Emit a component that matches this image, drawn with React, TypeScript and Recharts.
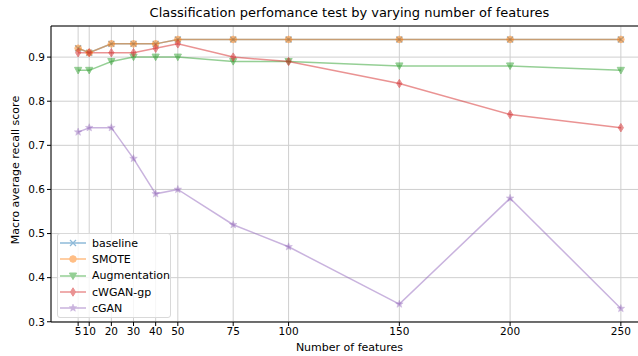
import React from "react";
import { CartesianGrid, Line, LineChart, ReferenceLine, XAxis, YAxis } from "recharts";

const features = [5, 10, 20, 30, 40, 50, 75, 100, 150, 200, 250];
const baseline = [0.92, 0.91, 0.93, 0.93, 0.93, 0.94, 0.94, 0.94, 0.94, 0.94, 0.94];
const smote = [0.92, 0.91, 0.93, 0.93, 0.93, 0.94, 0.94, 0.94, 0.94, 0.94, 0.94];
const augmentation = [0.87, 0.87, 0.89, 0.9, 0.9, 0.9, 0.89, 0.89, 0.88, 0.88, 0.87];
const cwgan = [0.91, 0.91, 0.91, 0.91, 0.92, 0.93, 0.9, 0.89, 0.84, 0.77, 0.74];
const cgan = [0.73, 0.74, 0.74, 0.67, 0.59, 0.6, 0.52, 0.47, 0.34, 0.58, 0.33];
const yTicks = [0.3, 0.4, 0.5, 0.6, 0.7, 0.8, 0.9];

const data = features.map((f, i) => ({
  f,
  baseline: baseline[i],
  smote: smote[i],
  augmentation: augmentation[i],
  cwgan: cwgan[i],
  cgan: cgan[i],
}));

type MarkerKind = "x" | "o" | "v" | "d" | "*";

const series: { key: string; name: string; color: string; marker: MarkerKind }[] = [
  { key: "baseline", name: "baseline", color: "#1f77b4", marker: "x" },
  { key: "smote", name: "SMOTE", color: "#ff7f0e", marker: "o" },
  { key: "augmentation", name: "Augmentation", color: "#2ca02c", marker: "v" },
  { key: "cwgan", name: "cWGAN-gp", color: "#d62728", marker: "d" },
  { key: "cgan", name: "cGAN", color: "#9467bd", marker: "*" },
];

function Marker({ cx, cy, kind, color }: { cx: number; cy: number; kind: MarkerKind; color: string }) {
  if (cx == null || cy == null) return null;
  if (kind === "x") {
    const s = 3;
    return (
      <g stroke={color} strokeWidth={1.3}>
        <line x1={cx - s} y1={cy - s} x2={cx + s} y2={cy + s} />
        <line x1={cx - s} y1={cy + s} x2={cx + s} y2={cy - s} />
      </g>
    );
  }
  if (kind === "o") return <circle cx={cx} cy={cy} r={3.3} fill={color} stroke={color} />;
  if (kind === "v")
    return (
      <polygon
        points={`${cx - 3.6},${cy - 3} ${cx + 3.6},${cy - 3} ${cx},${cy + 3.6}`}
        fill={color}
        stroke={color}
      />
    );
  if (kind === "d")
    return (
      <polygon
        points={`${cx},${cy - 4.2} ${cx + 2.6},${cy} ${cx},${cy + 4.2} ${cx - 2.6},${cy}`}
        fill={color}
        stroke={color}
      />
    );
  const pts: string[] = [];
  for (let i = 0; i < 10; i++) {
    const r = i % 2 === 0 ? 4 : 1.7;
    const a = -Math.PI / 2 + (i * Math.PI) / 5;
    pts.push(`${cx + r * Math.cos(a)},${cy + r * Math.sin(a)}`);
  }
  return <polygon points={pts.join(" ")} fill={color} stroke={color} strokeWidth={0.5} />;
}

const font = "DejaVu Sans, sans-serif";

function LegendBox() {
  return (
    <div
      style={{
        position: "absolute",
        left: 57,
        top: 233,
        boxSizing: "border-box",
        width: 114,
        height: 85,
        border: "1px solid #d9d9d9",
        borderRadius: 3,
        background: "rgba(255,255,255,0.8)",
        padding: "1px 0 0 1px",
        fontFamily: font,
        fontSize: 11,
        color: "#000",
      }}
    >
      {series.map((s) => (
        <div key={s.key} style={{ display: "flex", alignItems: "center", height: 16.3 }}>
          <svg width={30} height={12} style={{ opacity: 0.5 }}>
            <line x1={1} y1={6} x2={27} y2={6} stroke={s.color} strokeWidth={1.5} />
            <Marker cx={14} cy={6} kind={s.marker} color={s.color} />
          </svg>
          <span style={{ marginLeft: 3 }}>{s.name}</span>
        </div>
      ))}
    </div>
  );
}

export default function App() {
  return (
    <div style={{ position: "absolute", left: 0, top: 0, width: 638, height: 356, overflow: "hidden", background: "#fff" }}>
      <div style={{ position: "absolute", left: 0, top: 0 }}>
        <LineChart width={660} height={356} data={data} margin={{ top: 26, right: 12, bottom: 0, left: 0 }}>
          <CartesianGrid stroke="#cfcfcf" strokeWidth={1} />
          <XAxis
            dataKey="f"
            type="number"
            domain={[-7.25, 262.25]}
            ticks={features}
            interval={0}
            height={34}
            stroke="#000"
            tick={{ fill: "#000", fontSize: 10.5, fontFamily: font }}
            tickSize={4}
            allowDataOverflow
          />
          <YAxis
            type="number"
            domain={[0.2995, 0.9705]}
            ticks={yTicks}
            width={51}
            stroke="#000"
            tick={{ fill: "#000", fontSize: 10.5, fontFamily: font }}
            tickSize={4}
            tickFormatter={(v: number) => v.toFixed(1)}
            allowDataOverflow
          />
          <ReferenceLine y={0.9705} stroke="#000" strokeWidth={1} />
          {series.map((s) => (
            <Line
              key={s.key}
              dataKey={s.key}
              name={s.name}
              type="linear"
              stroke={s.color}
              strokeWidth={1.5}
              strokeOpacity={0.5}
              isAnimationActive={false}
              activeDot={false}
              dot={(p: any) => (
                <g key={`${s.key}-${p.index}`} opacity={0.5}>
                  <Marker cx={p.cx} cy={p.cy} kind={s.marker} color={s.color} />
                </g>
              )}
            />
          ))}
        </LineChart>
      </div>
      <div
        style={{
          position: "absolute",
          top: 5,
          left: 0,
          width: 699,
          textAlign: "center",
          fontFamily: font,
          fontSize: 13,
          color: "#000",
        }}
      >
        Classification perfomance test by varying number of features
      </div>
      <div
        style={{
          position: "absolute",
          left: 15,
          top: 170,
          transform: "translate(-50%, -50%) rotate(-90deg)",
          fontFamily: font,
          fontSize: 11,
          whiteSpace: "nowrap",
          color: "#000",
        }}
      >
        Macro average recall score
      </div>
      <div
        style={{
          position: "absolute",
          left: 0,
          width: 699,
          top: 341,
          textAlign: "center",
          fontFamily: font,
          fontSize: 11,
          color: "#000",
        }}
      >
        Number of features
      </div>
      <LegendBox />
    </div>
  );
}
